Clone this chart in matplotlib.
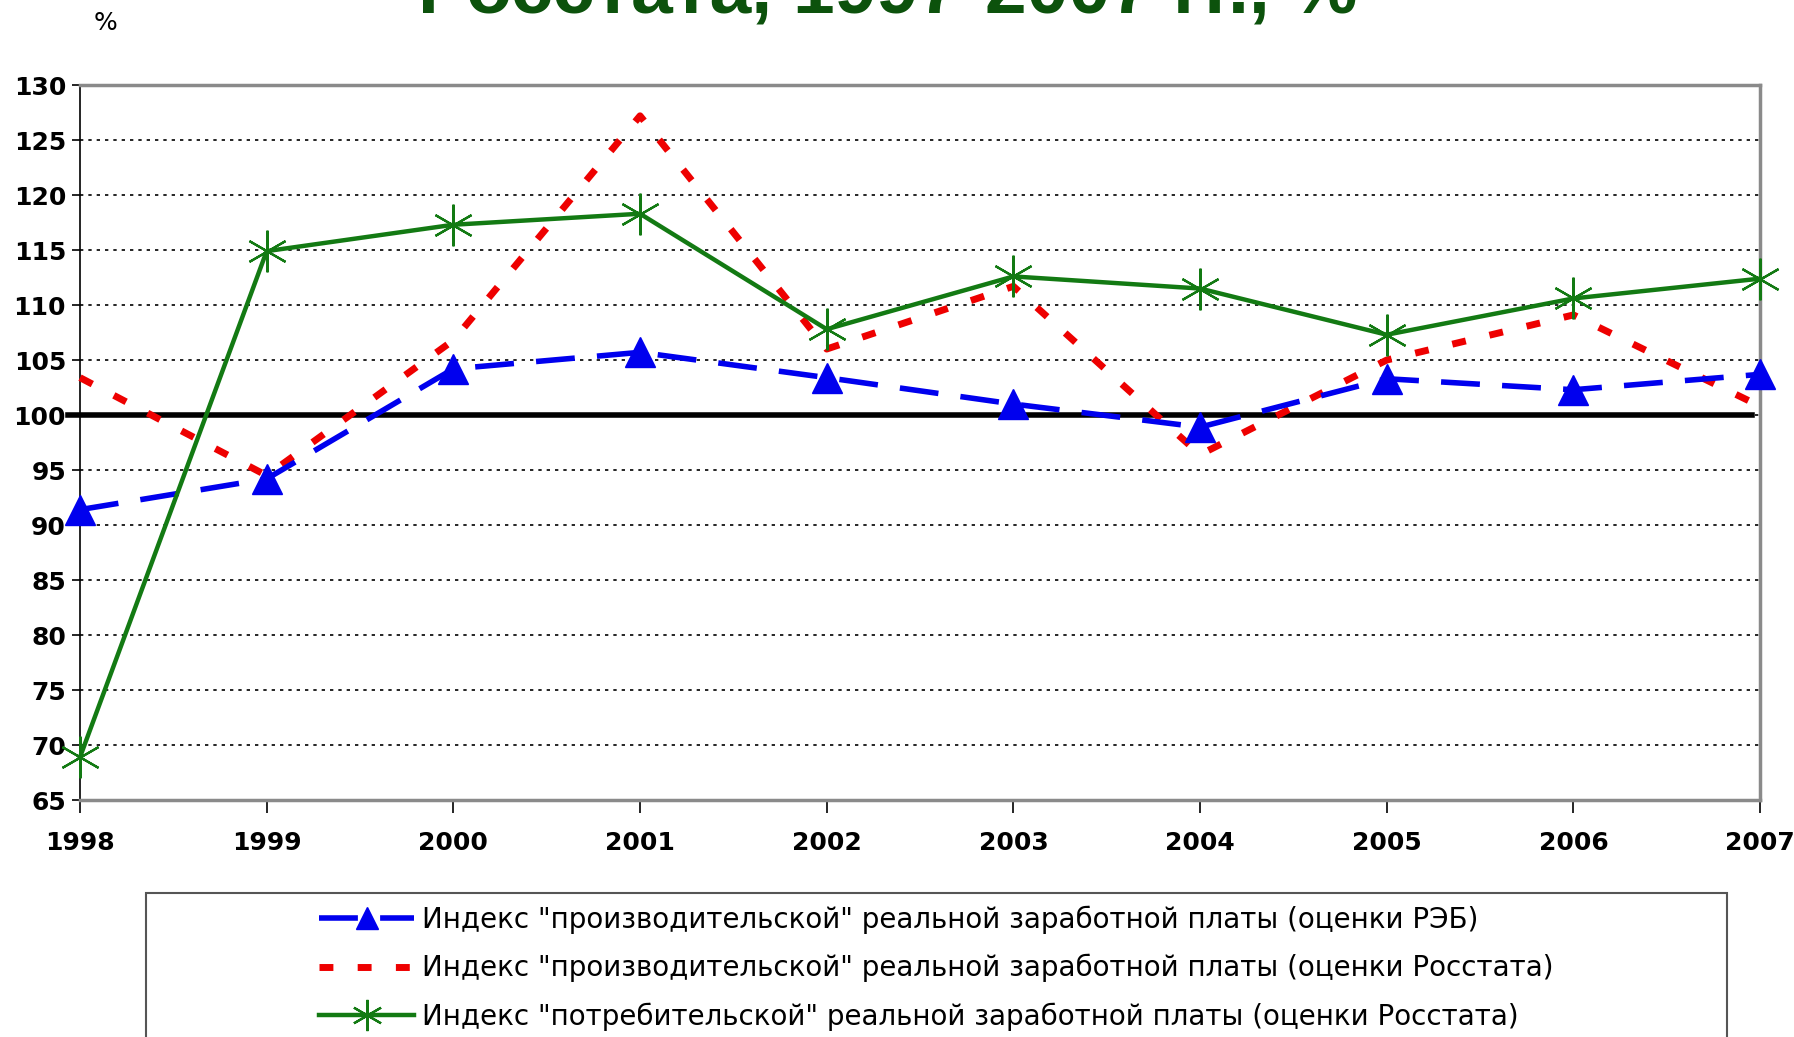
import matplotlib.pyplot as plt
from matplotlib.patches import Rectangle

# Годы и значения индексов (%)
years = [1998, 1999, 2000, 2001, 2002, 2003, 2004, 2005, 2006, 2007]
reb = [91.4, 94.2, 104.2, 105.7, 103.4, 101.0, 98.9, 103.3, 102.3, 103.7]
rosstat_prod = [103.4, 94.5, 106.8, 127.2, 106.0, 111.7, 96.4, 105.0, 109.1, 100.8]
rosstat_cons = [68.9, 114.9, 117.3, 118.3, 107.8, 112.6, 111.5, 107.3, 110.6, 112.4]

labels = ['Индекс "производительской" реальной заработной платы (оценки РЭБ)',
          'Индекс "производительской" реальной заработной платы (оценки Росстата)',
          'Индекс "потребительской" реальной заработной платы (оценки Росстата)']
yticks = list(range(65, 131, 5))

fig = plt.figure(figsize=(17.94, 10.37), dpi=100)
ax = fig.add_axes([0.0446, 0.2285, 0.9365, 0.6895])

# Сетка и базовая линия 100
ax.set_yticks(yticks)
ax.yaxis.grid(True, linestyle=(0, (2, 3)), color='black', linewidth=1.2)
ax.set_axisbelow(True)
ax.axhline(100, xmin=-0.007, xmax=0.995, color='black', linewidth=4, clip_on=False, zorder=2)

l1, = ax.plot(years, reb, color='#0000ee', linewidth=4, dashes=(7, 4), marker='^',
              markersize=22, markerfacecolor='#0000ee', markeredgecolor='#0000ee',
              clip_on=False, zorder=4)
l2, = ax.plot(years, rosstat_prod, color='#ee0000', linewidth=5, dashes=(2, 3.5),
              clip_on=False, zorder=3)
l3, = ax.plot(years, rosstat_cons, color='#137a13', linewidth=3.2, marker=(6, 2, 0),
              markersize=30, markeredgewidth=1.6, markeredgecolor='#137a13',
              clip_on=False, zorder=5)

ax.set_xlim(1998, 2007)
ax.set_ylim(65, 130)
ax.set_xticks(years)
ax.tick_params(axis='x', labelsize=18, length=9, width=1.2, pad=13)
ax.tick_params(axis='y', labelsize=18, length=6, width=1.2, pad=4)
for lab in ax.get_xticklabels() + ax.get_yticklabels():
    lab.set_fontweight('semibold')

for side in ['top', 'right', 'bottom']:
    ax.spines[side].set_color('#8a8a8a')
    ax.spines[side].set_linewidth(2.5)
ax.spines['left'].set_color('black')
ax.spines['left'].set_linewidth(1.2)

# Заголовок (обрезан сверху, как в оригинале) и подпись оси
fig.text(0.495, 0.988, 'Росстата, 1997-2007 гг., %', ha='center', va='baseline',
         fontsize=54, fontweight='bold', color='#0c520c', family='Liberation Sans')
fig.text(0.059, 0.978, '%', ha='center', va='center', fontsize=18)

# Легенда в рамке
fig.patches.append(Rectangle((0.0814, -0.05), 0.8813, 0.1889, transform=fig.transFigure,
                             fill=False, edgecolor='#555555', linewidth=1.5))
fig.legend([l1, l2, l3], labels, loc='upper center', bbox_to_anchor=(0.522, 0.151),
           frameon=False, fontsize=20, handlelength=3.4, handletextpad=0.3,
           labelspacing=0.72, markerscale=0.75)

plt.savefig('out.png', dpi=100)
